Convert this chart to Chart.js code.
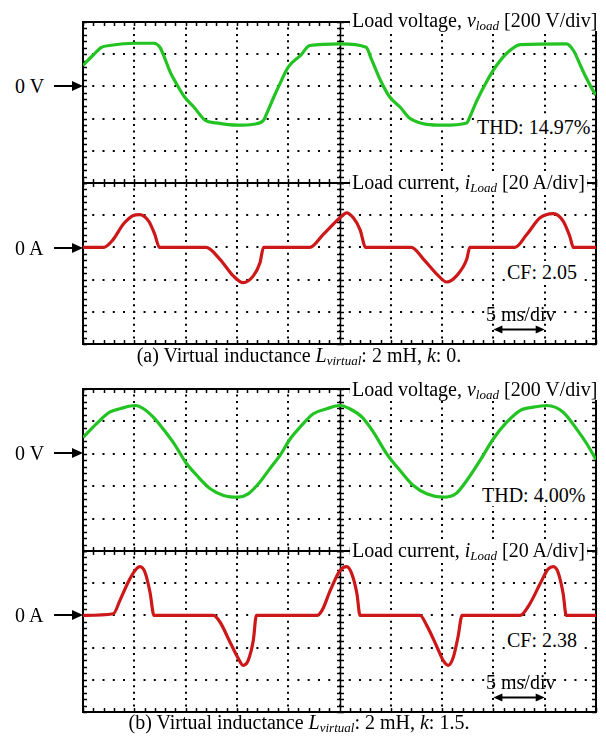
<!DOCTYPE html>
<html>
<head>
<meta charset="utf-8">
<script src="https://cdn.jsdelivr.net/npm/chart.js@4.4.1/dist/chart.umd.min.js"></script>
<style>
    body { margin: 0; background: #fff; }
    #page { position: relative; width: 606px; height: 740px; overflow: hidden;
            font-family: "Liberation Serif", "Times New Roman", serif; color: #000; }
    canvas { position: absolute; }
    .txt { position: absolute; font-size: 20px; line-height: 22px; white-space: nowrap; }
    .box { background: #fff; padding: 0 2px; }
    sub { font-size: 13px; vertical-align: -3px; line-height: 0; }
    .cap { left: 0; width: 598px; text-align: center; }
    svg { position: absolute; left: 0; top: 0; }
</style>
</head>
<body>
<div id="page">
    <canvas id="aV" width="525" height="173" style="left:77px;top:16px"></canvas>
    <canvas id="aI" width="525" height="173" style="left:77px;top:177px"></canvas>
    <canvas id="bV" width="525" height="174" style="left:77px;top:383px"></canvas>
    <canvas id="bI" width="525" height="173" style="left:77px;top:545px"></canvas>

    <div class="txt box" style="left:350px;top:9px">Load voltage, <i>v</i><sub><i>load</i></sub> [200 V/div]</div>
    <div class="txt box" style="left:350px;top:171px">Load current, <i>i</i><sub><i>Load</i></sub> [20 A/div]</div>
    <div class="txt box" style="left:475px;top:116px">THD: 14.97%</div>
    <div class="txt box" style="left:505px;top:261px">CF: 2.05</div>
    <div class="txt" style="left:486px;top:303px">5 ms/div</div>
    <div class="txt cap" style="top:344px">(a) Virtual inductance <i>L</i><sub><i>virtual</i></sub>: 2 mH, <i>k</i>: 0.</div>

    <div class="txt box" style="left:350px;top:378px">Load voltage, <i>v</i><sub><i>load</i></sub> [200 V/div]</div>
    <div class="txt box" style="left:350px;top:539px">Load current, <i>i</i><sub><i>Load</i></sub> [20 A/div]</div>
    <div class="txt box" style="left:480px;top:484px">THD: 4.00%</div>
    <div class="txt box" style="left:505px;top:629px">CF: 2.38</div>
    <div class="txt" style="left:486px;top:671px">5 ms/div</div>
    <div class="txt cap" style="top:711px">(b) Virtual inductance <i>L</i><sub><i>virtual</i></sub>: 2 mH, <i>k</i>: 1.5.</div>

    <div class="txt" style="left:15px;top:75px">0 V</div>
    <div class="txt" style="left:15px;top:237px">0 A</div>
    <div class="txt" style="left:15px;top:442px">0 V</div>
    <div class="txt" style="left:15px;top:604px">0 A</div>
    <svg width="606" height="740">
        <g stroke="#000" stroke-width="2" fill="#000">
            <line x1="54" y1="86" x2="74" y2="86"/><polygon points="83,86 72,81 72,91" stroke="none"/>
            <line x1="54" y1="248" x2="74" y2="248"/><polygon points="83,248 72,243 72,253" stroke="none"/>
            <line x1="54" y1="453" x2="74" y2="453"/><polygon points="83,453 72,448 72,458" stroke="none"/>
            <line x1="54" y1="615" x2="74" y2="615"/><polygon points="83,615 72,610 72,620" stroke="none"/>
        </g>
    </svg>
</div>

<script>
// time axis: 10 div x 5 ms
const xTicks = [0, 5, 10, 15, 20, 25, 30, 35, 40, 45, 50];

// (a) k = 0
const aVoltT = [0, 1.0, 1.8, 2.6, 5.1, 6.9, 7.5, 7.8, 8.5, 9.1, 9.9, 10.8, 11.9, 13.0, 15.1, 16.6, 17.6, 17.9, 18.6, 19.2, 20.0, 21.2, 22.1, 25.1, 27.6, 28.1, 29.0, 29.9, 30.9, 31.9, 35.1, 37.4, 37.7, 38.4, 39.4, 40.3, 41.6, 42.6, 47.1, 47.8, 48.7, 49.9, 50];
const aVoltV = [130, 195, 243, 254, 268, 268, 243, 202, 89, 17, -66, -128, -210, -227, -241, -235, -210, -169, -66, 17, 120, 192, 254, 264, 243, 171, 37, -66, -128, -200, -241, -227, -190, -87, 37, 130, 223, 260, 264, 223, 99, -45, -52];
const aCurrT = [0, 2.0, 2.95, 3.9, 4.9, 5.5, 6.4, 7.0, 7.45, 12.0, 13.35, 14.65, 15.6, 16.6, 17.25, 17.6, 22.1, 23.4, 25.05, 25.7, 26.35, 27.0, 27.55, 32.0, 33.2, 34.5, 35.45, 36.4, 37.4, 37.7, 42.1, 43.25, 44.55, 45.85, 46.8, 47.45, 47.8, 50];
const aCurrA = [0, 0, 5, 14.2, 19.8, 20.4, 16.3, 8, 0, 0, -7.4, -17.7, -21.9, -17.7, -9.5, 0, 0, 8, 18.4, 21.5, 18.4, 11.1, 0, 0, -7.4, -16.7, -21.5, -17.7, -7.4, 0, 0, 8, 18.4, 21, 16.3, 6.8, 0, 0];

// (b) k = 1.5
const bVoltT = [0, 1.3, 2.6, 3.6, 5.1, 5.9, 6.85, 7.8, 9.0, 10.0, 11.1, 12.4, 13.7, 15.1, 16.1, 17.1, 18.2, 19.2, 20.2, 21.15, 22.45, 23.75, 25.05, 26.0, 27.2, 28.3, 29.6, 30.9, 32.2, 33.5, 35.1, 36.4, 37.4, 38.7, 40.0, 41.3, 42.6, 43.9, 45.2, 46.8, 48.1, 49.1, 50];
const bVoltV = [100, 185, 257, 278, 298, 278, 226, 154, 51, -52, -134, -216, -257, -268, -247, -185, -93, -10, 93, 164, 247, 278, 298, 278, 226, 134, 0, -103, -196, -247, -268, -243, -165, -41, 93, 195, 267, 288, 298, 257, 154, 62, -35];
const bCurrT = [0, 2.95, 3.6, 4.4, 5.07, 5.56, 6.04, 6.53, 6.92, 12.7, 13.35, 14.32, 15.14, 15.6, 16.1, 16.6, 16.9, 22.8, 23.3, 24.1, 25.05, 25.7, 26.2, 26.7, 27.0, 32.85, 33.5, 34.5, 35.1, 35.6, 36.1, 36.55, 36.95, 42.6, 43.55, 44.55, 45.35, 45.85, 46.3, 46.8, 47.1, 50];
const bCurrA = [0, 1, 9.3, 20.6, 27.9, 30.3, 26.8, 14.4, 0, 0, -4.1, -16.5, -26.8, -31, -27.9, -15.5, 0, 0, 3.1, 15.5, 27.9, 30.3, 25.8, 13.4, 0, 0, -6.2, -19.6, -27.9, -31, -25.8, -13.4, 0, 0, 7.2, 19.6, 28.9, 30.3, 26.8, 13.4, 0, 0];

// vertical ranges: 5 div, zero 2 div below top
const voltRange = [-600, 400];   // 200 V/div
const currRange = [-60, 40];     // 20 A/div
const timeArrow = [40, 45];      // "5 ms/div" marker
const arrowLevel = -51;          // A

// scope graticule: box, centre line, minor ticks, time-scale arrow
const graticule = {
    id: "graticule",
    beforeDatasetsDraw(chart) {
        const { ctx, chartArea: a, scales: { x, y } } = chart;
        ctx.save();
        ctx.strokeStyle = "#000";
        ctx.lineWidth = 1.5;
        const cx = Math.round(x.getPixelForValue(25)) + 0.5;
        ctx.beginPath();
        ctx.moveTo(cx, a.top);
        ctx.lineTo(cx, a.bottom);
        for (let t = 0; t <= 50; t += 1) {
            const px = Math.round(x.getPixelForValue(t)) + 0.5;
            ctx.moveTo(px, a.top); ctx.lineTo(px, a.top + 4);
            ctx.moveTo(px, a.bottom); ctx.lineTo(px, a.bottom - 4);
        }
        const step = (y.max - y.min) / 25;
        for (let i = 0; i <= 25; i++) {
            const py = Math.round(y.getPixelForValue(y.min + i * step)) + 0.5;
            ctx.moveTo(a.left, py); ctx.lineTo(a.left + 4, py);
            ctx.moveTo(a.right, py); ctx.lineTo(a.right - 4, py);
            ctx.moveTo(cx - 3.5, py); ctx.lineTo(cx + 3.5, py);
        }
        ctx.stroke();
        ctx.lineWidth = 2;
        ctx.strokeRect(a.left, a.top, a.right - a.left, a.bottom - a.top);
        ctx.restore();
    },
    afterDatasetsDraw(chart, args, opts) {
        if (!opts.arrow) return;
        const { ctx, scales: { x, y } } = chart;
        const x1 = x.getPixelForValue(timeArrow[0]);
        const x2 = x.getPixelForValue(timeArrow[1]);
        const py = y.getPixelForValue(arrowLevel);
        ctx.save();
        ctx.strokeStyle = "#000";
        ctx.fillStyle = "#000";
        ctx.lineWidth = 2;
        ctx.beginPath();
        ctx.moveTo(x1 + 6, py); ctx.lineTo(x2 - 6, py);
        ctx.stroke();
        ctx.beginPath();
        ctx.moveTo(x1, py); ctx.lineTo(x1 + 9, py - 4); ctx.lineTo(x1 + 9, py + 4); ctx.closePath();
        ctx.moveTo(x2, py); ctx.lineTo(x2 - 9, py - 4); ctx.lineTo(x2 - 9, py + 4); ctx.closePath();
        ctx.fill();
        ctx.restore();
    }
};

function makeScope(id, ts, vals, range, color, arrow) {
    const ctx = document.getElementById(id).getContext("2d");
    const plotH = document.getElementById(id).height - 12;
    return new Chart(ctx, {
        type: "line",
        data: {
            datasets: [{
                data: ts.map((t, i) => ({ x: t, y: vals[i] })),
                borderColor: color,
                borderWidth: 3.2,
                pointRadius: 0,
                fill: false,
                cubicInterpolationMode: "monotone"
            }]
        },
        options: {
            responsive: false,
            animation: false,
            events: [],
            layout: { padding: 6 },
            plugins: {
                legend: { display: false },
                tooltip: { enabled: false },
                graticule: { arrow: arrow }
            },
            scales: {
                x: {
                    type: "linear",
                    min: xTicks[0],
                    max: xTicks[xTicks.length - 1],
                    afterBuildTicks: axis => { axis.ticks = xTicks.map(v => ({ value: v })); },
                    ticks: { display: false },
                    grid: { color: "#000", lineWidth: 2, drawTicks: false },
                    border: { display: false, dash: [2, plotH / 25 - 2], dashOffset: 1 }
                },
                y: {
                    min: range[0],
                    max: range[1],
                    ticks: { display: false, stepSize: (range[1] - range[0]) / 5 },
                    grid: { color: "#000", lineWidth: 2, drawTicks: false },
                    border: { display: false, dash: [2, 513 / 50 - 2], dashOffset: 1 }
                }
            }
        },
        plugins: [graticule]
    });
}

makeScope("aV", aVoltT, aVoltV, voltRange, "#22c322", false);
makeScope("aI", aCurrT, aCurrA, currRange, "#cc1818", true);
makeScope("bV", bVoltT, bVoltV, voltRange, "#22c322", false);
makeScope("bI", bCurrT, bCurrA, currRange, "#cc1818", true);
</script>
</body>
</html>
